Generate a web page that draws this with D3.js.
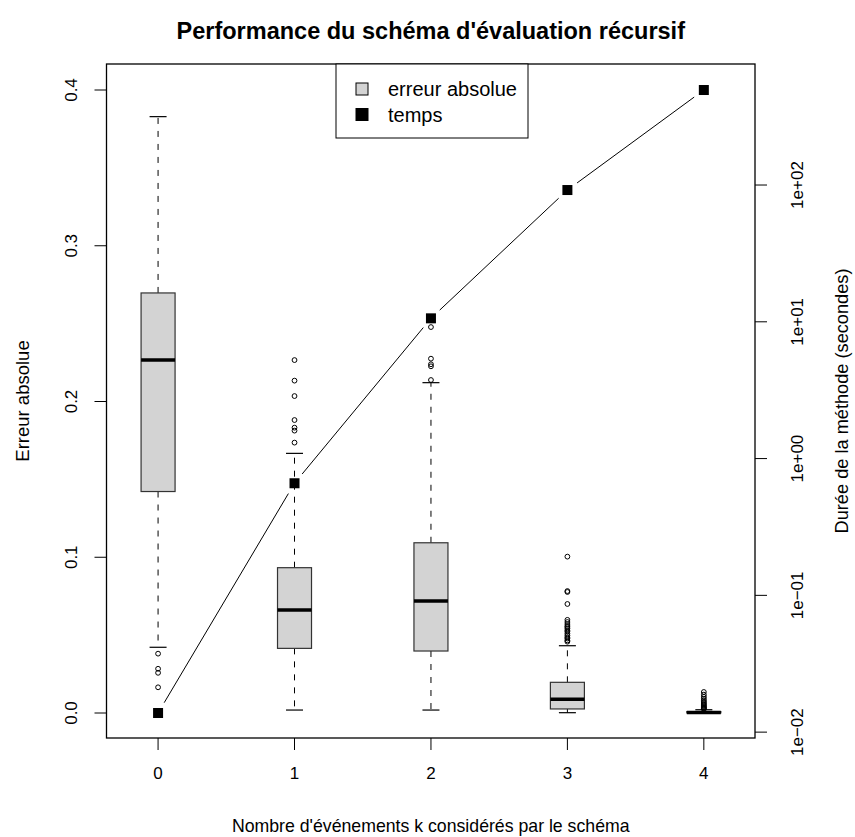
<!DOCTYPE html>
<html>
<head>
<meta charset="utf-8">
<script src="https://cdn.jsdelivr.net/npm/d3@7"></script>
<style>
  html, body { margin: 0; padding: 0; background: #ffffff; }
  svg { display: block; }
  text { font-family: "Liberation Sans", Arial, Helvetica, sans-serif; fill: #000; }
</style>
</head>
<body>
<script>
// ---------- data ----------
const categories   = ["0", "1", "2", "3", "4"];
const whiskerLow   = [0.0422, 0.0019, 0.0019, 0.0002, 0.0000];
const q1           = [0.1422, 0.0415, 0.0398, 0.0026, 0.0001];
const median       = [0.2266, 0.0661, 0.0719, 0.0088, 0.0004];
const q3           = [0.2697, 0.0933, 0.1093, 0.0197, 0.0009];
const whiskerHigh  = [0.3829, 0.1667, 0.2121, 0.0432, 0.0021];
const outliers0 = [0.0381, 0.0284, 0.0258, 0.0165];
const outliers1 = [0.2266, 0.2134, 0.2035, 0.1881, 0.1832, 0.1813, 0.1736];
const outliers2 = [0.2478, 0.2275, 0.2239, 0.2226, 0.2138];
const outliers3 = [0.1004, 0.0783, 0.0777, 0.0700, 0.0598, 0.0584, 0.0571, 0.0559,
                   0.0552, 0.0543, 0.0531, 0.0522, 0.0509, 0.0497, 0.0486, 0.0478,
                   0.0466, 0.0458];
const outliers4 = [0.0135, 0.0118, 0.0104, 0.0092, 0.0081, 0.0072, 0.0064, 0.0057,
                   0.0050, 0.0044, 0.0038, 0.0033, 0.0029, 0.0025];
const outliers = [outliers0, outliers1, outliers2, outliers3, outliers4];
const timeSeconds = [0.0138, 0.66, 10.6, 91.9, 495];

const leftTicks       = [0, 0.1, 0.2, 0.3, 0.4];
const leftTickLabels  = ["0.0", "0.1", "0.2", "0.3", "0.4"];
const rightTicks      = [0.01, 0.1, 1, 10, 100];
const rightTickLabels = ["1e\u221202", "1e\u221201", "1e+00", "1e+01", "1e+02"];

const titleText  = "Performance du schéma d'évaluation récursif";
const xLabel     = "Nombre d'événements k considérés par le schéma";
const yLabel     = "Erreur absolue";
const y2Label    = "Durée de la méthode (secondes)";
const legendLabels = ["erreur absolue", "temps"];

// ---------- layout ----------
const W = 855, H = 837;
const L = 106.5, R = 755, T = 64, B = 738;

const svg = d3.select("body").append("svg").attr("width", W).attr("height", H);

const x = d3.scaleLinear().domain([-0.378, 4.375]).range([L, R]);
const y = d3.scaleLinear().domain([-0.01605, 0.41670]).range([B, T]);
const yTime = d3.scaleLog()
  .domain([d3.min(timeSeconds), d3.max(timeSeconds)])
  .range([y(0), y(0.4)]);

const boxHalf = 17;
const capHalf = 8.5;

// ---------- boxes ----------
const g = svg.append("g");
categories.forEach((c, i) => {
  const cx = x(i);
  g.append("line").attr("x1", cx).attr("x2", cx)
    .attr("y1", y(q3[i])).attr("y2", y(whiskerHigh[i]))
    .attr("stroke", "#000").attr("stroke-width", 1).attr("stroke-dasharray", "6,7");
  g.append("line").attr("x1", cx).attr("x2", cx)
    .attr("y1", y(q1[i])).attr("y2", y(whiskerLow[i]))
    .attr("stroke", "#000").attr("stroke-width", 1).attr("stroke-dasharray", "6,7");
  [whiskerHigh[i], whiskerLow[i]].forEach(v => {
    g.append("line").attr("x1", cx - capHalf).attr("x2", cx + capHalf)
      .attr("y1", y(v)).attr("y2", y(v))
      .attr("stroke", "#000").attr("stroke-width", 1.2);
  });
  g.append("rect").attr("x", cx - boxHalf).attr("width", 2 * boxHalf)
    .attr("y", y(q3[i])).attr("height", Math.max(0.01, y(q1[i]) - y(q3[i])))
    .attr("fill", "#d3d3d3").attr("stroke", "#333").attr("stroke-width", 1.2);
  g.append("line").attr("x1", cx - boxHalf).attr("x2", cx + boxHalf)
    .attr("y1", y(median[i])).attr("y2", y(median[i]))
    .attr("stroke", "#000").attr("stroke-width", 3.5);
  outliers[i].forEach(v => {
    g.append("circle").attr("cx", cx).attr("cy", y(v)).attr("r", 2.4)
      .attr("fill", "none").attr("stroke", "#000").attr("stroke-width", 1);
  });
});

// ---------- time line (type "b") ----------
const pts = timeSeconds.map((t, i) => [x(i), yTime(t)]);
const gap = 12;
for (let i = 0; i < pts.length - 1; i++) {
  const [x1, y1] = pts[i], [x2, y2] = pts[i + 1];
  const d = Math.hypot(x2 - x1, y2 - y1);
  const ux = (x2 - x1) / d, uy = (y2 - y1) / d;
  svg.append("line")
    .attr("x1", x1 + ux * gap).attr("y1", y1 + uy * gap)
    .attr("x2", x2 - ux * gap).attr("y2", y2 - uy * gap)
    .attr("stroke", "#000").attr("stroke-width", 1);
}
pts.forEach(p => {
  svg.append("rect").attr("x", p[0] - 5).attr("y", p[1] - 5)
    .attr("width", 10).attr("height", 10).attr("fill", "#000");
});

// ---------- frame ----------
svg.append("rect").attr("x", L).attr("y", T).attr("width", R - L).attr("height", B - T)
  .attr("fill", "none").attr("stroke", "#000").attr("stroke-width", 1.3);

// ---------- axes ----------
const tick = 12;
const tickFont = 17;
leftTicks.forEach((v, i) => {
  svg.append("line").attr("x1", L - tick).attr("x2", L).attr("y1", y(v)).attr("y2", y(v))
    .attr("stroke", "#000").attr("stroke-width", 1);
  svg.append("text").attr("transform", `translate(77,${y(v)}) rotate(-90)`)
    .attr("text-anchor", "middle").attr("font-size", tickFont).text(leftTickLabels[i]);
});
rightTicks.forEach((v, i) => {
  svg.append("line").attr("x1", R).attr("x2", R + tick).attr("y1", yTime(v)).attr("y2", yTime(v))
    .attr("stroke", "#000").attr("stroke-width", 1);
  svg.append("text").attr("transform", `translate(803,${yTime(v)}) rotate(-90)`)
    .attr("text-anchor", "middle").attr("font-size", tickFont).text(rightTickLabels[i]);
});
categories.forEach((c, i) => {
  svg.append("line").attr("x1", x(i)).attr("x2", x(i)).attr("y1", B).attr("y2", B + tick)
    .attr("stroke", "#000").attr("stroke-width", 1);
  svg.append("text").attr("x", x(i)).attr("y", 779)
    .attr("text-anchor", "middle").attr("font-size", tickFont).text(c);
});

// ---------- titles ----------
svg.append("text").attr("x", (L + R) / 2).attr("y", 39).attr("text-anchor", "middle")
  .attr("font-size", 23.5).attr("font-weight", "bold").text(titleText);
svg.append("text").attr("x", (L + R) / 2).attr("y", 832).attr("text-anchor", "middle")
  .attr("font-size", 17.7).text(xLabel);
svg.append("text").attr("transform", `translate(29,${(T + B) / 2}) rotate(-90)`)
  .attr("text-anchor", "middle").attr("font-size", 18.5).text(yLabel);
svg.append("text").attr("transform", `translate(848,${(T + B) / 2}) rotate(-90)`)
  .attr("text-anchor", "middle").attr("font-size", 18.2).text(y2Label);

// ---------- legend ----------
const lg = svg.append("g");
lg.append("rect").attr("x", 336).attr("y", T).attr("width", 192).attr("height", 74)
  .attr("fill", "#fff").attr("stroke", "#000").attr("stroke-width", 1);
const legendFills = ["#d3d3d3", "#000"];
legendLabels.forEach((lab, i) => {
  const cy = 89 + i * 25.5;
  lg.append("rect").attr("x", 356).attr("y", cy - 6).attr("width", 12).attr("height", 12)
    .attr("fill", legendFills[i]).attr("stroke", "#000").attr("stroke-width", 1);
  lg.append("text").attr("x", 388).attr("y", cy + 7).attr("font-size", 20).text(lab);
});
</script>
</body>
</html>
